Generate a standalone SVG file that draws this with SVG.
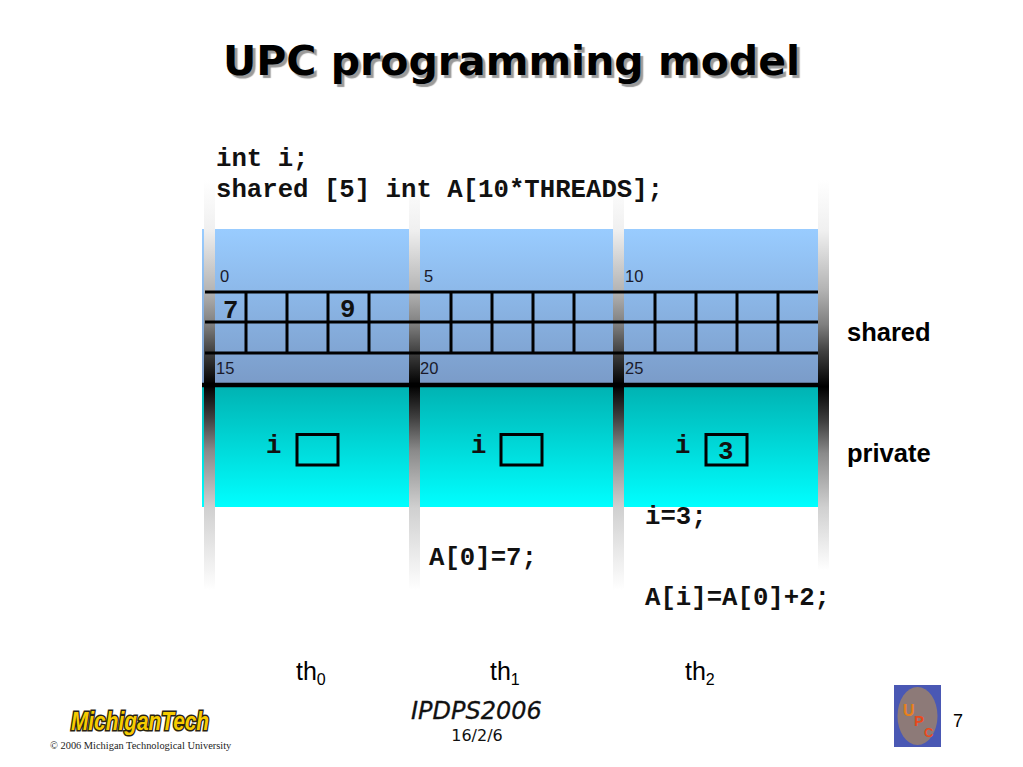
<svg xmlns="http://www.w3.org/2000/svg" width="1023" height="767" viewBox="0 0 1023 767">
<style>
.code{font-family:"Liberation Mono",monospace;font-weight:700;font-size:25.7px;fill:#111}
.idx{font-family:"Liberation Sans",Arial,sans-serif;font-size:16.500px;fill:#1a1a2a}
.lab{font-family:"Liberation Sans",Arial,sans-serif;font-weight:700;font-size:25.500px;fill:#000}
.th{font-family:"Liberation Sans",Arial,sans-serif;font-size:25px;fill:#000}
.sub{font-size:16px}
.title{font-family:"DejaVu Sans",Verdana,sans-serif;font-weight:700;font-size:41px;fill:#000;text-shadow:3px 3px 1px #9a9a9a}
.foot{font-family:"DejaVu Sans",Verdana,sans-serif;font-style:italic;font-size:24px;fill:#111;stroke:#111;stroke-width:.3px}
.grid{stroke:#000;stroke-width:3;fill:none}
.box{stroke:#000;stroke-width:3;fill:none}
</style>
<defs>
<linearGradient id="blue" x1="0" y1="0" x2="0" y2="1"><stop offset="0" stop-color="#99ccff"/><stop offset="1" stop-color="#7a9bc8"/></linearGradient>
<linearGradient id="cyan" x1="0" y1="0" x2="0" y2="1"><stop offset="0" stop-color="#00b3b3"/><stop offset="1" stop-color="#00ffff"/></linearGradient>
<linearGradient id="bar1" gradientUnits="userSpaceOnUse" x1="0" y1="180" x2="0" y2="590">
<stop offset="0" stop-color="#fff"/><stop offset=".12" stop-color="#f0f0f0"/><stop offset=".27" stop-color="#b4b4b4"/><stop offset=".35" stop-color="#808080"/><stop offset=".42" stop-color="#404040"/><stop offset=".5" stop-color="#000"/><stop offset=".58" stop-color="#404040"/><stop offset=".66" stop-color="#8a8a8a"/><stop offset=".8" stop-color="#d0d0d0"/><stop offset="1" stop-color="#fff"/></linearGradient>
<linearGradient id="bar2" gradientUnits="userSpaceOnUse" x1="0" y1="180" x2="0" y2="570">
<stop offset="0" stop-color="#fff"/><stop offset=".13" stop-color="#f0f0f0"/><stop offset=".28" stop-color="#b4b4b4"/><stop offset=".37" stop-color="#808080"/><stop offset=".44" stop-color="#404040"/><stop offset=".53" stop-color="#000"/><stop offset=".62" stop-color="#404040"/><stop offset=".7" stop-color="#8a8a8a"/><stop offset=".84" stop-color="#d0d0d0"/><stop offset="1" stop-color="#fff"/></linearGradient>
</defs>
<rect width="1023" height="767" fill="#fff"/>
<g id="title"><text class="title" x="223" y="75">UPC programming model</text></g>
<g id="shared-area"><rect x="202" y="229" width="616" height="156" fill="url(#blue)"/></g>
<g id="private-area"><rect x="202" y="387" width="616" height="120" fill="url(#cyan)"/></g>
<g id="thread-bars">
<rect x="204" y="180" width="11" height="410" fill="url(#bar1)"/>
<rect x="409" y="180" width="11" height="410" fill="url(#bar1)"/>
<rect x="613" y="180" width="11" height="410" fill="url(#bar1)"/>
<rect x="818" y="180" width="11" height="390" fill="url(#bar2)"/>
</g>
<g id="shared-grid">
<path class="grid" d="M205 292H818M205 322H818M205 353H818"/>
<path class="grid" d="M246 292V353M287 292V353M328 292V353M369 292V353M451 292V353M492 292V353M533 292V353M574 292V353M655 292V353M696 292V353M737 292V353M778 292V353"/>
<path d="M202 385H818" stroke="#000" stroke-width="4.500"/>
</g>
<g id="indices">
<text class="idx" x="220" y="282">0</text><text class="idx" x="424" y="282">5</text><text class="idx" x="625" y="282">10</text>
<text class="idx" x="216" y="374">15</text><text class="idx" x="420" y="374">20</text><text class="idx" x="625" y="374">25</text>
</g>
<g id="cell-values">
<text class="code" x="223" y="318">7</text><text class="code" x="340" y="317">9</text>
</g>
<g id="thread0-i"><text class="code" x="266" y="453">i</text><rect class="box" x="297" y="434.500" width="41" height="30.500"/></g>
<g id="thread1-i"><text class="code" x="471" y="453">i</text><rect class="box" x="501" y="434.500" width="41" height="30.500"/></g>
<g id="thread2-i"><text class="code" x="675" y="453">i</text><rect class="box" x="706" y="434.500" width="41" height="30.500"/><text class="code" x="718" y="459">3</text></g>
<g id="code">
<text class="code" x="216" y="166">int i;</text>
<text class="code" x="216" y="197">shared [5] int A[10*THREADS];</text>
<text class="code" x="645" y="524">i=3;</text>
<text class="code" x="429" y="565">A[0]=7;</text>
<text class="code" x="645" y="605">A[i]=A[0]+2;</text>
</g>
<g id="labels">
<text class="lab" x="847" y="341">shared</text>
<text class="lab" x="847" y="462">private</text>
</g>
<g id="thread-labels">
<text class="th" x="296" y="680">th<tspan class="sub" dy="5">0</tspan></text>
<text class="th" x="490" y="680">th<tspan class="sub" dy="5">1</tspan></text>
<text class="th" x="685" y="680">th<tspan class="sub" dy="5">2</tspan></text>
</g>
<g id="footer">
<text class="foot" x="411" y="719">IPDPS2006</text>
<text x="477" y="741" text-anchor="middle" font-family="'DejaVu Sans',Verdana,sans-serif" font-size="16" fill="#111">16/2/6</text>
<text x="958" y="727" text-anchor="middle" font-family="'Liberation Sans',Arial,sans-serif" font-size="18" fill="#000">7</text>
<text x="50" y="749" font-family="'Liberation Serif',serif" font-size="10.400" fill="#222">© 2006 Michigan Technological University</text>
</g>
<g id="michigan-tech-logo">
<text x="71" y="730" font-family="'Liberation Sans',Arial,sans-serif" font-weight="700" font-style="italic" font-size="25" textLength="138" lengthAdjust="spacingAndGlyphs" fill="#f7cc00" stroke="#2a2410" stroke-width="3" paint-order="stroke">MichiganTech</text>
</g>
<g id="upc-logo">
<rect x="894" y="685" width="47" height="62" fill="#4a58b4"/>
<ellipse cx="917.500" cy="716" rx="20" ry="29" fill="#8d7a78"/>
<text x="903" y="716" font-family="'Liberation Sans',Arial,sans-serif" font-weight="700" font-size="16" fill="#e8801c">U</text>
<text x="914" y="726" font-family="'Liberation Sans',Arial,sans-serif" font-weight="700" font-size="15" fill="#e84a1c">P</text>
<text x="924" y="737" font-family="'Liberation Sans',Arial,sans-serif" font-weight="700" font-size="13" fill="#e84a1c">C</text>
</g>
</svg>
